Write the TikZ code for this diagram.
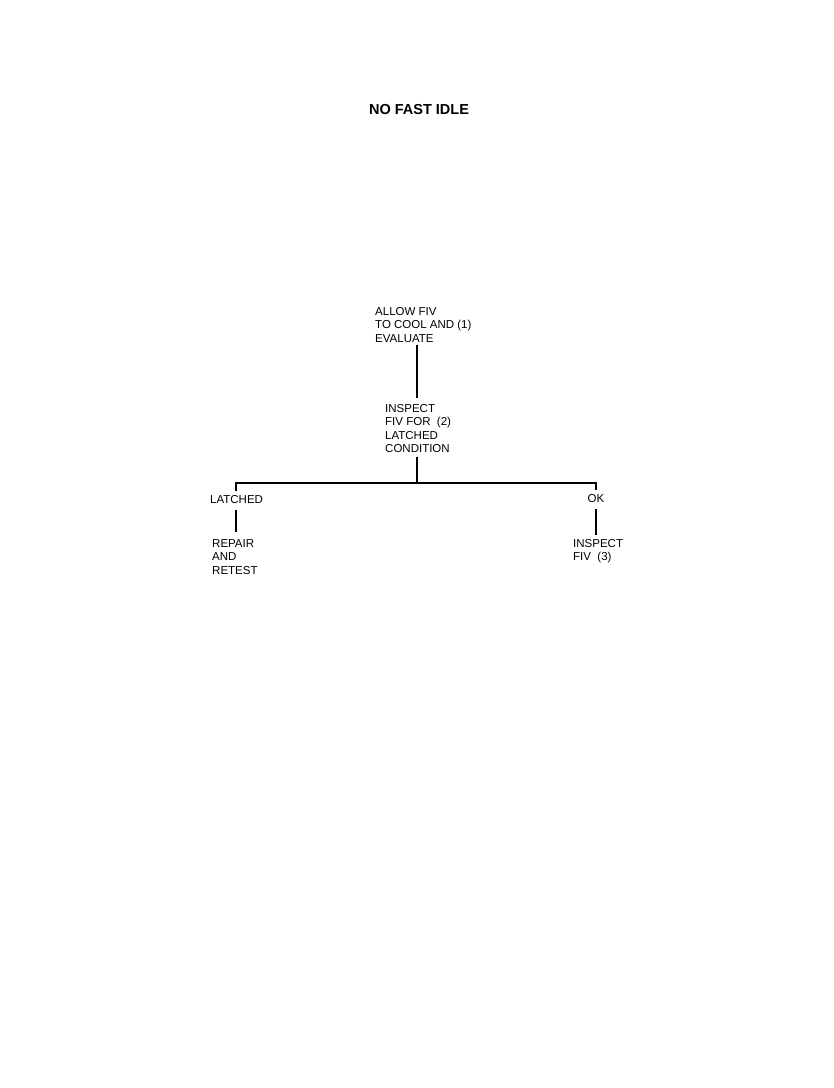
\documentclass[tikz,border=0pt]{standalone}
\usepackage{fontspec}
\setmainfont{Liberation Sans}
\usepackage{tikz}
\usetikzlibrary{positioning, calc}

\begin{document}
\begin{tikzpicture}[x=1pt, y=-1pt,
    boxtext/.style={anchor=north west, inner sep=0pt, align=left,
      font=\fontsize{11.5}{13.5}\selectfont},
    link/.style={line width=1.6pt}]
    \useasboundingbox (0,0) rectangle (834,1088);
    % heading
    \node[font=\fontsize{14.5}{16}\selectfont\bfseries] (title) at (419,110) {NO FAST IDLE};
    % steps
    \node[boxtext] (cool) at (375,307) {ALLOW FIV\\TO COOL AND (1)\\EVALUATE};
    \node[boxtext] (inspect) at (385,404) {INSPECT\\FIV FOR\ \ (2)\\LATCHED\\CONDITION};
    \coordinate (bus) at (417,483);
    \node[boxtext, anchor=west] (latched) at (210,500) {LATCHED};
    \node[boxtext, anchor=center] (ok) at (596,499) {OK};
    \node[boxtext] (repair) at (212,539) {REPAIR\\AND\\RETEST};
    \node[boxtext] (fiv) at (573,539) {INSPECT\\FIV\ \ (3)};
    % connectors
    \draw[link] ($(cool.south -| bus)+(0,2)$) -- ($(inspect.north -| bus)+(0,-6)$);
    \draw[link] ($(inspect.south -| bus)+(0,4)$) -- (bus);
    \draw[link] ($(latched.north -| 236,0)+(0,-5)$) |- (bus) -| ($(ok.north)+(0,-5)$);
    \draw[link] ($(latched.south -| 236,0)+(0,6)$) -- ($(repair.north -| 236,0)+(0,-7)$);
    \draw[link] ($(ok.south)+(0,6)$) -- ($(fiv.north -| ok)+(0,-4)$);
\end{tikzpicture}
\end{document}
